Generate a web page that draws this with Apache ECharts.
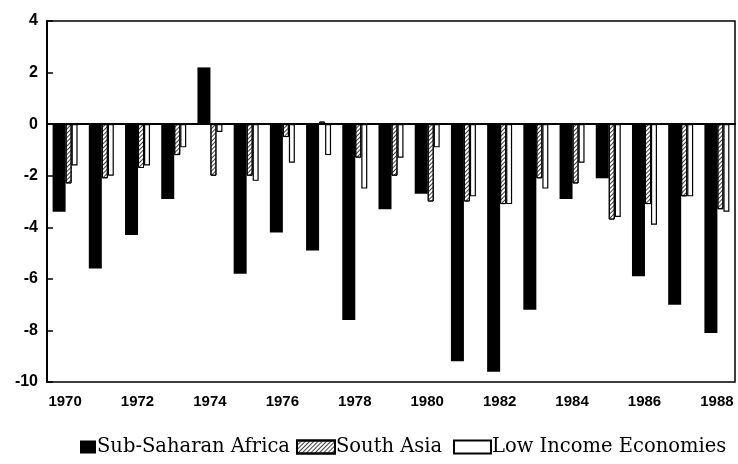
<!DOCTYPE html>
<html>
<head>
<meta charset="utf-8">
<script src="https://cdn.jsdelivr.net/npm/echarts@6/dist/echarts.min.js"></script>
<style>
html,body{margin:0;padding:0;background:#fff;}
#chart{width:738px;height:464px;}
</style>
</head>
<body>
<div id="chart"></div>
<script>
const years = ['1970','1971','1972','1973','1974','1975','1976','1977','1978','1979','1980','1981','1982','1983','1984','1985','1986','1987','1988'];
const subSaharanAfrica = [-3.4,-5.6,-4.3,-2.9,2.2,-5.8,-4.2,-4.9,-7.6,-3.3,-2.7,-9.2,-9.6,-7.2,-2.9,-2.1,-5.9,-7.0,-8.1];
const southAsia = [-2.3,-2.1,-1.7,-1.2,-2.0,-2.0,-0.5,0.1,-1.3,-2.0,-3.0,-3.0,-3.1,-2.1,-2.3,-3.7,-3.1,-2.8,-3.3];
const lowIncome = [-1.6,-2.0,-1.6,-0.9,-0.3,-2.2,-1.5,-1.2,-2.5,-1.3,-0.9,-2.8,-3.1,-2.5,-1.5,-3.6,-3.9,-2.8,-3.4];
const yTicks = {min:-10, max:4, interval:2};

const chart = echarts.init(document.getElementById('chart'), null, {renderer:'canvas'});
const legendFont = {fontFamily:'DejaVu Serif', fontSize:19.5, color:'#000', padding:[0,0,0,-4]};
const hatch = {symbol:'rect', symbolSize:1, color:'rgba(0,0,0,0.75)', dashArrayX:[1,0], dashArrayY:[1,1.2], rotation:-Math.PI/4};
chart.setOption({
  animation:false,
  backgroundColor:'#fff',
  grid:{left:47, right:3, top:21, bottom:82, show:true, borderColor:'#000', borderWidth:1.5, containLabel:false},
  legend:[
    {data:['Sub-Saharan Africa'], icon:'rect', left:80, top:437, itemWidth:16, itemHeight:13, textStyle:legendFont, padding:0},
    {data:['South Asia'], icon:'rect', left:296, top:437, itemWidth:38, itemHeight:13, textStyle:legendFont, padding:0},
    {data:['Low Income Economies'], icon:'rect', left:453, top:437, itemWidth:37, itemHeight:13, textStyle:legendFont, padding:0}
  ],
  xAxis:{
    type:'category', data:years,
    axisLine:{lineStyle:{color:'#000', width:2}},
    axisTick:{inside:true, length:8, alignWithLabel:true, interval:0, lineStyle:{color:'#000', width:1.5}},
    axisLabel:{interval:1, margin:12, fontFamily:'Liberation Sans', fontWeight:'bold', fontSize:15, color:'#000'}
  },
  yAxis:{
    type:'value', min:yTicks.min, max:yTicks.max, interval:yTicks.interval,
    axisLine:{show:true, lineStyle:{color:'#000', width:2}},
    axisTick:{show:true, inside:true, length:6, lineStyle:{color:'#000', width:1.5}},
    splitLine:{show:false},
    axisLabel:{margin:9, fontFamily:'Liberation Sans', fontWeight:'bold', fontSize:16, color:'#000'}
  },
  series:[
    {name:'Sub-Saharan Africa', type:'bar', data:subSaharanAfrica, barWidth:13,
     itemStyle:{color:'#000'},
     markLine:{silent:true, symbol:'none', label:{show:false}, lineStyle:{color:'#000', width:1.5, type:'solid'}, data:[{yAxis:0}]}},
    {name:'South Asia', type:'bar', data:southAsia, barWidth:6,
     itemStyle:{color:'#fff', borderColor:'#000', borderWidth:1, decal:hatch}},
    {name:'Low Income Economies', type:'bar', data:lowIncome, barWidth:6, barGap:'0%',
     itemStyle:{color:'#fff', borderColor:'#000', borderWidth:1.2}}
  ]
});
</script>
</body>
</html>
